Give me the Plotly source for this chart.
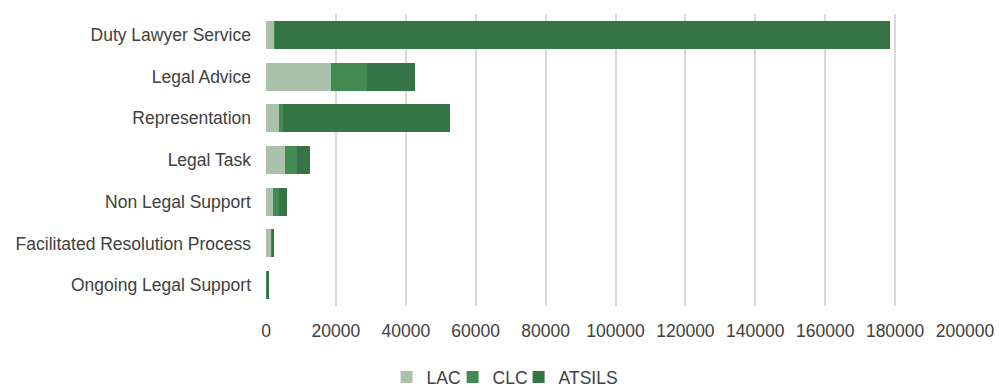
import plotly.graph_objects as go

# Service types (top to bottom)
categories = [
    "Duty Lawyer Service",
    "Legal Advice",
    "Representation",
    "Legal Task",
    "Non Legal Support",
    "Facilitated Resolution Process",
    "Ongoing Legal Support",
]

# Service counts by provider
lac = [2300, 18700, 3800, 5350, 2000, 1600, 100]
clc = [400, 10300, 1150, 3430, 1600, 400, 300]
atsils = [175800, 13700, 47700, 3800, 2500, 100, 300]

tick_values = [0, 20000, 40000, 60000, 80000, 100000, 120000, 140000, 160000, 180000, 200000]
tick_labels = [str(v) for v in tick_values]

series = [
    ("LAC", lac, "#aac2ab", 21),
    ("CLC", clc, "#438b52", 21),
    ("ATSILS", atsils, "#357445", 60),
]

fig = go.Figure()
for name, values, color, entry_w in series:
    fig.add_trace(go.Bar(
        name=name,
        y=categories,
        x=values,
        orientation="h",
        marker=dict(color=color, line=dict(width=0)),
        legendwidth=entry_w,
    ))

font_family = "Liberation Sans, Arial, sans-serif"
text_size = 17.5

fig.update_layout(
    barmode="stack",
    bargap=0.33,
    width=999,
    height=388,
    margin=dict(l=266, r=34, t=14, b=82, autoexpand=False),
    paper_bgcolor="white",
    plot_bgcolor="white",
    font=dict(family=font_family, size=text_size, color="#404040"),
    showlegend=True,
    legend=dict(
        orientation="h",
        x=0.387,
        xref="container",
        xanchor="left",
        y=0.028,
        yref="container",
        yanchor="middle",
        font=dict(size=text_size, color="#404040"),
        traceorder="normal",
        itemwidth=30,
        entrywidthmode="pixels",
    ),
    xaxis=dict(
        range=[0, 200000],
        tickmode="array",
        tickvals=tick_values,
        ticktext=tick_labels,
        showgrid=True,
        gridcolor="#d9d9d9",
        gridwidth=2,
        zeroline=False,
        showline=False,
        ticks="",
        ticklabelstandoff=12,
        tickfont=dict(size=text_size, color="#404040"),
        fixedrange=True,
    ),
    yaxis=dict(
        categoryorder="array",
        categoryarray=categories,
        autorange="reversed",
        showgrid=False,
        showline=False,
        ticks="",
        ticklabelstandoff=14,
        tickfont=dict(size=text_size, color="#404040"),
        fixedrange=True,
    ),
)

fig.write_html("out.html")
